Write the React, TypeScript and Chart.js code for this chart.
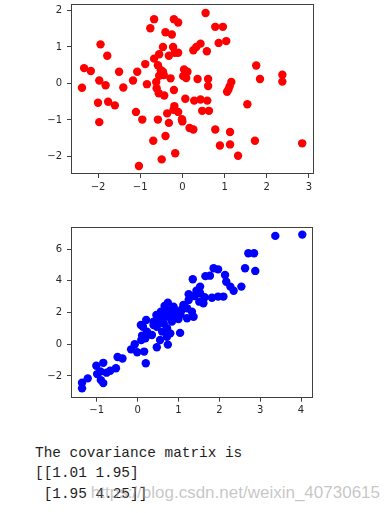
import React, { useEffect, useRef } from "react";
import { Chart, registerables } from "chart.js";

Chart.register(...registerables);

// ---- Data ----
const redX = [
  0.55, -0.67, -0.2, -0.1, -0.76, 0.78, 0.96, -0.4, -0.25, -1.94,
  0.86, 1.04, 0.43, 0.33, 0.26, 0.58, -0.46, -0.22, -1.78, -0.55,
  -0.67, -0.32, -0.18, -0.1, -2.33, -2.17, -1.5, -1.07, -0.88, -0.58,
  -0.51, -0.46, -0.55, -0.44, -0.28, 0.04, 0.12, 0.02, 0.09, 1.75,
  1.84, 2.37, 2.37, 0.36, 0.61, 1.16, -1.97, -1.17, -0.62, -2.38,
  -1.82, -1.4, -0.84, -0.61, -0.2, 0.61, 1.12, 1.09, 1.06, -0.56,
  -0.43, 0.07, 0.28, 0.43, 0.59, 0.47, 0.63, 1.54, -2.0, -1.76,
  -1.6, -1.97, -1.1, -0.95, -0.58, -0.36, -0.32, -0.19, -0.21, -0.1,
  -0.01, 0.0, 0.17, 0.26, 0.78, 1.13, 0.89, 1.13, 1.32, 1.72,
  2.84, -0.69, -0.4, -0.49, -0.17, -1.03,
];
const redY = [
  1.93, 1.76, 1.76, 1.67, 1.51, 1.55, 1.55, 1.4, 1.34, 1.07,
  1.11, 1.16, 1.09, 1.0, 0.91, 0.88, 1.0, 1.0, 0.76, 0.8,
  0.68, 0.76, 0.84, 0.84, 0.42, 0.34, 0.32, 0.32, 0.53, 0.5,
  0.36, 0.32, 0.21, 0.23, 0.14, 0.38, 0.32, 0.2, 0.15, 0.49,
  0.12, 0.24, 0.05, 0.12, 0.12, 0.04, 0.08, 0.08, 0.04, -0.12,
  -0.05, -0.11, -0.02, -0.13, -0.18, -0.07, -0.08, -0.17, -0.23, -0.27,
  -0.33, -0.42, -0.47, -0.44, -0.47, -0.75, -0.75, -0.57, -0.53, -0.5,
  -0.6, -1.06, -0.78, -0.99, -0.99, -0.82, -1.08, -0.62, -0.72, -0.78,
  -0.98, -1.04, -1.22, -1.26, -1.26, -1.33, -1.7, -1.67, -1.98, -1.57,
  -1.64, -1.57, -1.44, -2.08, -1.91, -2.26,
];

const blueX = [
  -1.36, -1.36, -1.22, -1.01, -0.84, -0.99, -0.91, -0.84, -0.9, -0.76,
  -0.67, -0.53, -0.49, -0.37, -0.16, -0.07, -0.01, 0.16, 0.2, 0.09,
  0.19, 0.11, 0.35, 0.23, 0.13, 0.08, 0.21, 0.39, 0.47, 0.74,
  0.55, 0.72, 0.8, 1.04, 0.6, 0.72, 0.47, 0.64, 0.55, 0.39,
  0.84, 0.46, 0.76, 0.88, 1.0, 0.66, 0.57, 0.96, 1.09, 1.21,
  1.33, 1.37, 1.21, 0.74, 0.66, 0.88, 1.12, 1.25, 1.51, 1.61,
  1.25, 1.39, 1.53, 1.44, 1.53, 1.35, 1.66, 1.77, 1.86, 1.97,
  2.14, 2.17, 1.64, 1.82, 1.97, 2.1, 2.27, 2.35, 2.54, 2.63,
  2.88, 2.71, 2.85, 3.37, 4.03, 0.62, 0.78, 0.5, 0.92, 0.7,
  1.05, 0.85,
];
const blueY = [
  -2.78, -2.43, -2.15, -1.35, -1.17, -1.88, -1.72, -2.45, -2.26, -1.79,
  -1.67, -1.51, -0.8, -0.9, -0.32, 0.0, -0.5, -0.46, -1.2, 0.27,
  0.38, 0.55, 0.59, 0.8, 1.11, 1.22, 1.53, 1.22, -0.19, -0.02,
  0.27, 0.48, 0.69, 0.72, 0.8, 1.01, 1.11, 1.33, 1.43, 1.43,
  1.43, 1.85, 1.74, 1.85, 1.6, 1.9, 2.05, 1.96, 2.21, 2.27,
  2.06, 1.74, 1.64, 2.63, 2.42, 2.37, 2.48, 2.8, 2.69, 2.59,
  3.16, 3.05, 3.22, 3.38, 3.64, 4.1, 4.3, 4.33, 4.8, 4.73,
  4.37, 3.95, 2.97, 2.94, 3.01, 3.01, 3.64, 3.38, 3.64, 4.8,
  4.63, 5.74, 5.74, 6.84, 6.92, 1.62, 2.12, 1.65, 2.15, 2.2,
  1.9, 1.65,
];

const topXTicks = [-2, -1, 0, 1, 2, 3];
const topYTicks = [-2, -1, 0, 1, 2];
const botXTicks = [-1, 0, 1, 2, 3, 4];
const botYTicks = [-2, 0, 2, 4, 6];

const textLines = ["The covariance matrix is", "[[1.01 1.95]", " [1.95 4.25]]"];
const watermark = "https://blog.csdn.net/weixin_40730615";

const framePlugin = {
  id: "frame",
  afterDraw(chart: any) {
    const { ctx, chartArea: a } = chart;
    ctx.save();
    ctx.strokeStyle = "#404040";
    ctx.lineWidth = 1;
    const l = Math.round(a.left) + 0.5;
    const t = Math.round(a.top) + 0.5;
    const r = Math.round(a.right) - 0.5;
    const b = Math.round(a.bottom) - 0.5;
    ctx.strokeRect(l, t, r - l, b - t);
    ctx.restore();
  },
};

const fmt = (v: any) => String(v).replace("-", "\u2212");

type PanelProps = {
  xs: number[];
  ys: number[];
  color: string;
  xMin: number;
  xMax: number;
  yMin: number;
  yMax: number;
  xTicks: number[];
  yTicks: number[];
  top: number;
  height: number;
  padTop: number;
  padRight: number;
  yAxisW: number;
  xAxisH: number;
};

function Panel(p: PanelProps) {
  const ref = useRef<HTMLCanvasElement | null>(null);
  useEffect(() => {
    if (!ref.current) return;
    const pts = p.xs.map((x, i) => ({ x, y: p.ys[i] }));
    const tickFont = { family: "DejaVu Sans", size: 10 };
    const chart = new Chart(ref.current, {
      type: "scatter",
      data: {
        datasets: [
          {
            data: pts,
            backgroundColor: p.color,
            borderColor: p.color,
            borderWidth: 0,
            pointRadius: 4.2,
            pointHoverRadius: 4.2,
          },
        ],
      },
      options: {
        responsive: false,
        animation: false,
        events: [],
        layout: { padding: { left: 0, right: p.padRight, top: p.padTop, bottom: 0 } },
        plugins: { legend: { display: false }, tooltip: { enabled: false } },
        scales: {
          x: {
            type: "linear",
            min: p.xMin,
            max: p.xMax,
            border: { display: false },
            grid: { display: true, drawOnChartArea: false, drawTicks: true, tickLength: 4, color: "#404040" },
            ticks: { font: tickFont, color: "#262626", padding: 3, maxRotation: 0, callback: fmt },
            afterBuildTicks: (s: any) => {
              s.ticks = p.xTicks.map((v) => ({ value: v }));
            },
            afterFit: (s: any) => {
              s.height = p.xAxisH;
              s.paddingLeft = 0;
              s.paddingRight = 0;
              s.paddingTop = 0;
              s.paddingBottom = 0;
            },
          },
          y: {
            type: "linear",
            min: p.yMin,
            max: p.yMax,
            border: { display: false },
            grid: { display: true, drawOnChartArea: false, drawTicks: true, tickLength: 4, color: "#404040" },
            ticks: { font: tickFont, color: "#262626", padding: 5, callback: fmt },
            afterBuildTicks: (s: any) => {
              s.ticks = p.yTicks.map((v) => ({ value: v }));
            },
            afterFit: (s: any) => {
              s.width = p.yAxisW;
              s.paddingLeft = 0;
              s.paddingRight = 0;
              s.paddingTop = 0;
              s.paddingBottom = 0;
            },
          },
        },
      },
      plugins: [framePlugin],
    } as any);
    return () => chart.destroy();
  }, []);
  return (
    <canvas
      ref={ref}
      width={390}
      height={p.height}
      style={{ position: "absolute", left: 0, top: p.top, width: 390, height: p.height }}
    />
  );
}

export default function App() {
  return (
    <div style={{ position: "absolute", left: 0, top: 0, width: 390, height: 513, background: "#fff", overflow: "hidden" }}>
      <Panel
        xs={redX}
        ys={redY}
        color="#ff0000"
        xMin={-2.64}
        xMax={3.12}
        yMin={-2.48}
        yMax={2.17}
        xTicks={topXTicks}
        yTicks={topYTicks}
        top={0}
        height={200}
        padTop={4}
        padRight={76}
        yAxisW={71}
        xAxisH={26}
      />
      <Panel
        xs={blueX}
        ys={blueY}
        color="#0000ff"
        xMin={-1.63}
        xMax={4.3}
        yMin={-3.37}
        yMax={7.42}
        xTicks={botXTicks}
        yTicks={botYTicks}
        top={210}
        height={215}
        padTop={16.7}
        padRight={76.7}
        yAxisW={71}
        xAxisH={27.3}
      />
      <div
        style={{
          position: "absolute",
          left: 35,
          top: 443,
          fontFamily: "'Liberation Mono', monospace",
          fontSize: 14.4,
          lineHeight: "20.3px",
          whiteSpace: "pre",
          color: "#1e1e1e",
        }}
      >
        {textLines.join("\n")}
      </div>
      <div
        style={{
          position: "absolute",
          right: 10,
          top: 483,
          fontFamily: "'Liberation Sans', Arial, sans-serif",
          fontSize: 17,
          lineHeight: "20px",
          whiteSpace: "pre",
          color: "rgba(150,150,150,0.55)",
        }}
      >
        {watermark}
      </div>
    </div>
  );
}
